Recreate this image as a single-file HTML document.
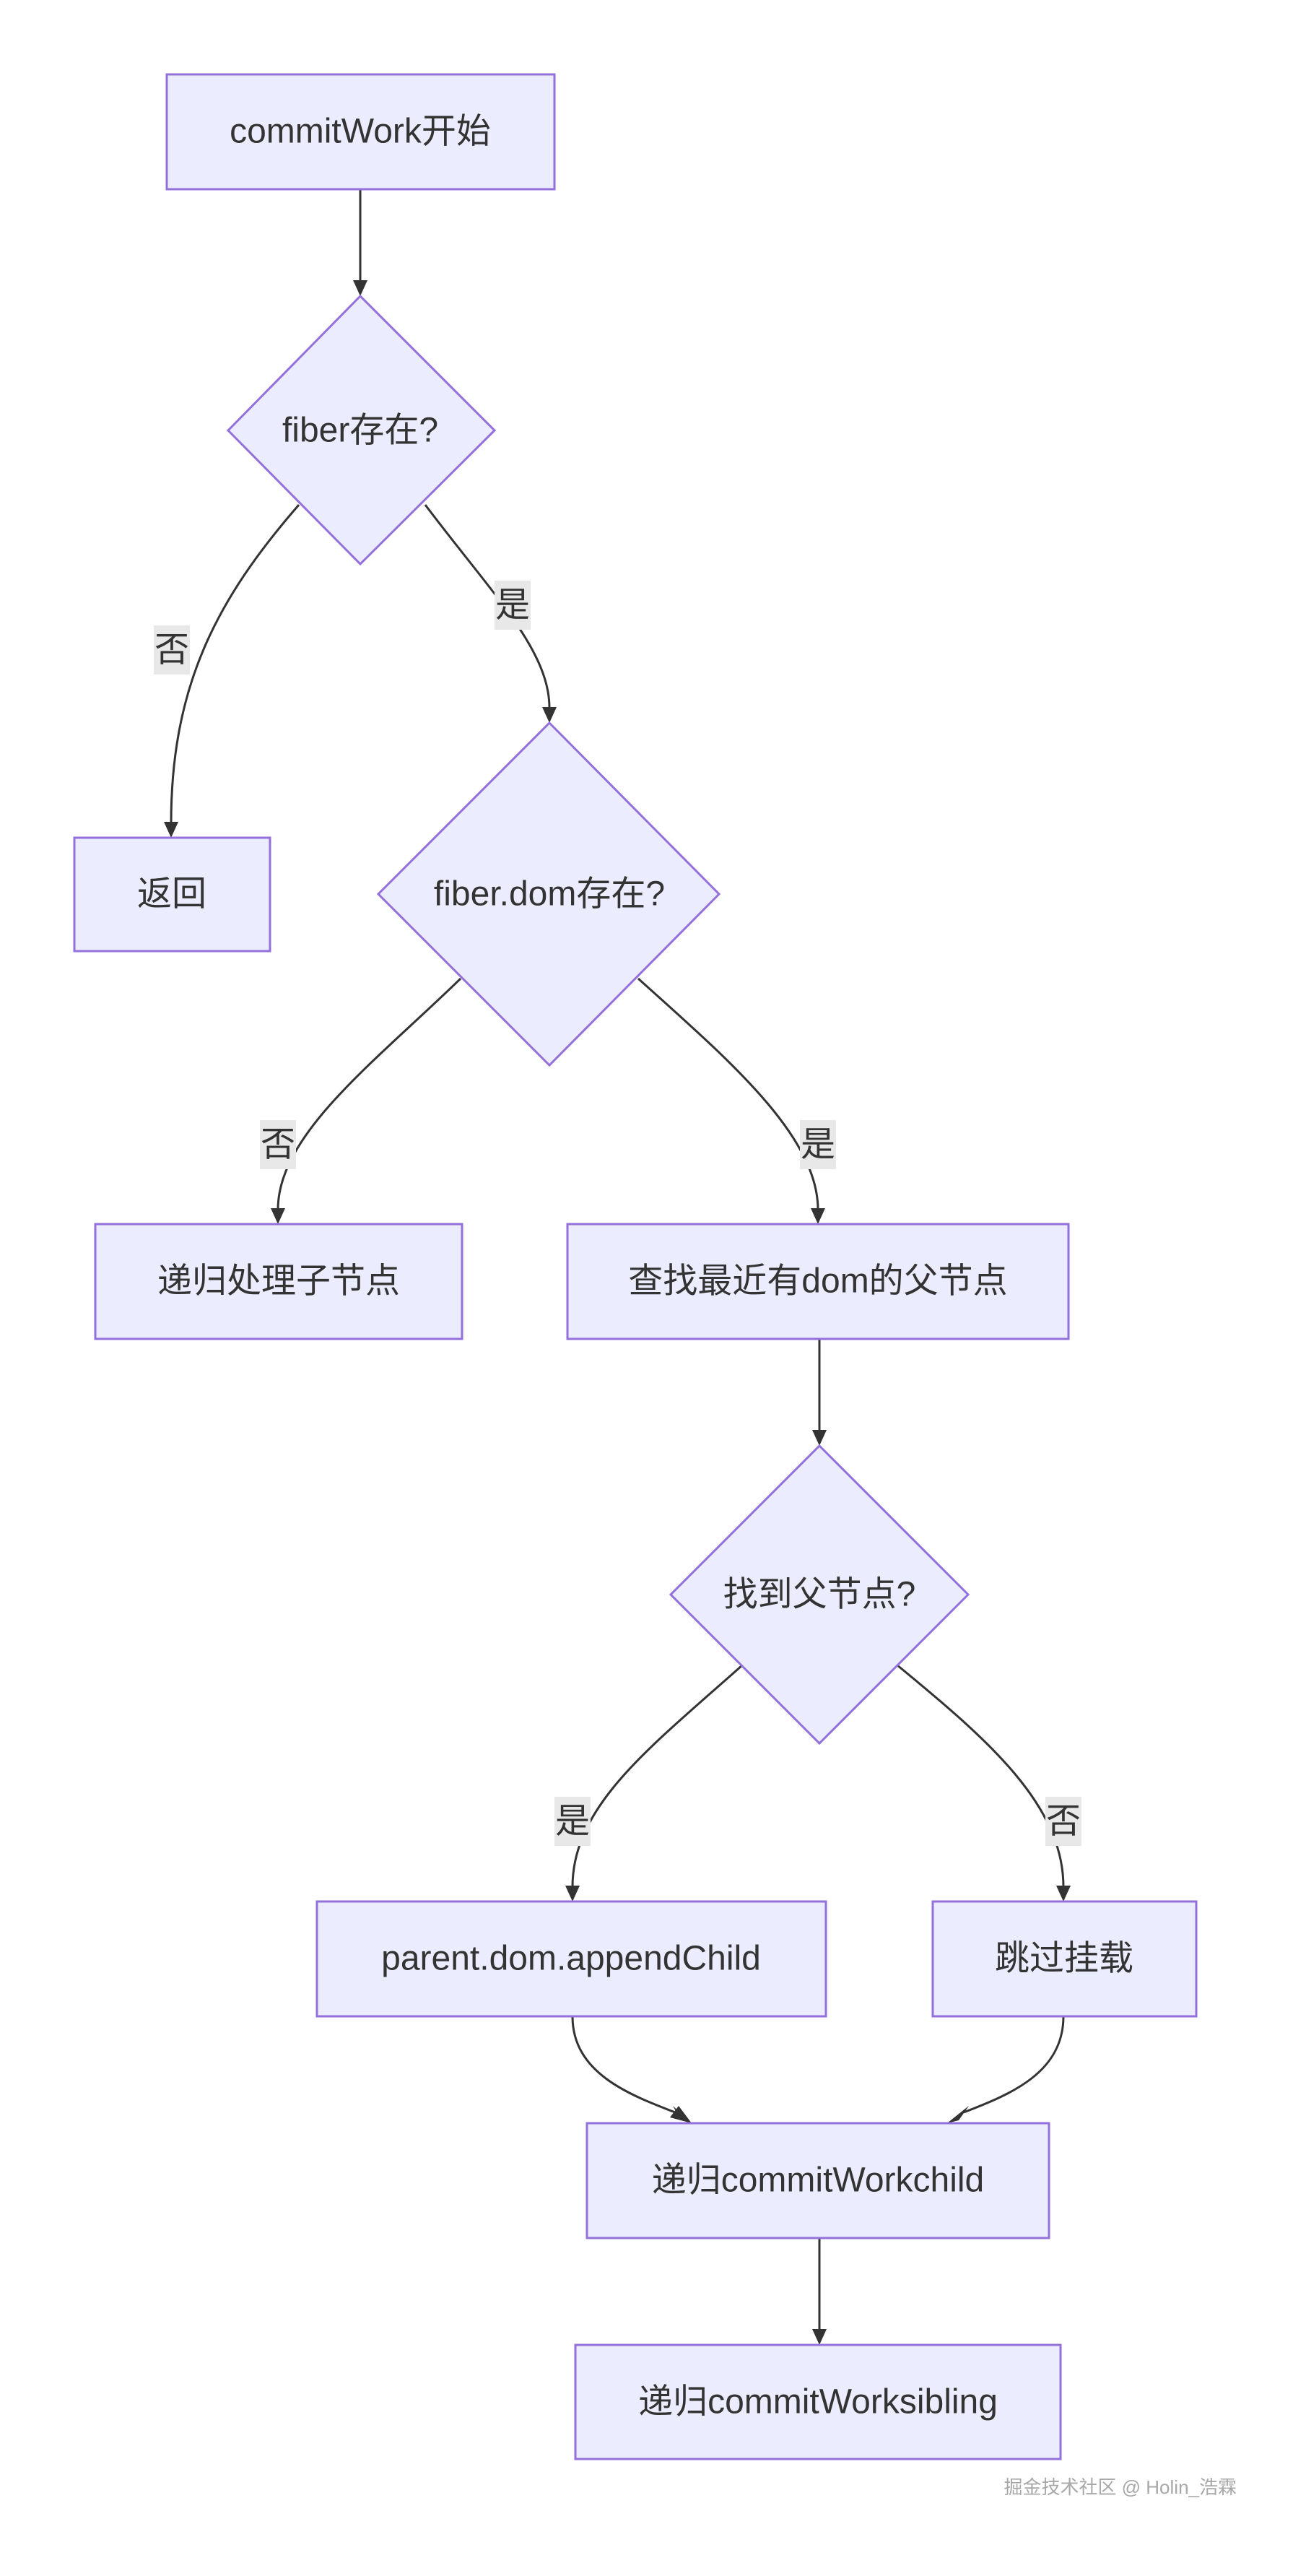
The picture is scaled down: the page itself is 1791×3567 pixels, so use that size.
<!DOCTYPE html>
<html><head><meta charset="utf-8">
<style>
html,body{margin:0;padding:0;background:#fff;}
svg{display:block;}
text{font-family:"Liberation Sans","Noto Sans CJK SC",sans-serif;fill:#333;}
</style></head>
<body>
<svg width="1791" height="3567" viewBox="0 0 1791 3567" xmlns="http://www.w3.org/2000/svg">
<g fill="none" stroke="#333" stroke-width="3">
<path d="M499,262 L499,390"/>
<path d="M414,699 C300,830 237,950 237,1140"/>
<path d="M589,699 C680,820 761,900 761,980"/>
<path d="M638,1355 C520,1470 385,1570 385,1675"/>
<path d="M884,1355 C1000,1460 1133,1570 1133,1675"/>
<path d="M1135,1854 L1135,1982"/>
<path d="M1028,2306 C900,2420 793,2500 793,2613"/>
<path d="M1243,2306 C1370,2410 1473,2500 1473,2613"/>
<path d="M793,2792 C793,2870 870,2900 935,2925"/>
<path d="M1473,2792 C1473,2870 1400,2900 1335,2925"/>
<path d="M1135,3099 L1135,3227"/>
</g>
<g fill="#333">
<path d="M489,388 L509,388 L499,410 z"/>
<path d="M227,1138 L247,1138 L237,1160 z"/>
<path d="M751,979 L771,979 L761,1001 z"/>
<path d="M375,1673 L395,1673 L385,1695 z"/>
<path d="M1123,1673 L1143,1673 L1133,1695 z"/>
<path d="M1125,1980 L1145,1980 L1135,2002 z"/>
<path d="M783,2611 L803,2611 L793,2633 z"/>
<path d="M1463,2611 L1483,2611 L1473,2633 z"/>
<path d="M932,2916 L942,2934 L958,2940 z" />
<path d="M928,2932 L940,2916 L958,2940 z"/>
<path d="M1342,2916 L1330,2932 L1312,2940 z"/>
<path d="M1342,2916 L1328,2936 L1312,2940 z"/>
<path d="M1125,3225 L1145,3225 L1135,3247 z"/>
</g>
<g fill="#ECECFF" stroke="#9370DB" stroke-width="3">
<rect x="231" y="103" width="537" height="159"/>
<polygon points="499,410 685,596 499,781 316,596"/>
<rect x="103" y="1160" width="271" height="157"/>
<polygon points="761,1001 996,1238 761,1475 524,1238"/>
<rect x="132" y="1695" width="508" height="159"/>
<rect x="786" y="1695" width="694" height="159"/>
<polygon points="1135,2002 1341,2208 1135,2414 929,2208"/>
<rect x="439" y="2633" width="705" height="159"/>
<rect x="1292" y="2633" width="365" height="159"/>
<rect x="813" y="2940" width="640" height="159"/>
<rect x="797" y="3247" width="672" height="158"/>
</g>
<g fill="#e8e8e8">
<rect x="213" y="866" width="50" height="68"/>
<rect x="685" y="804" width="50" height="68"/>
<rect x="360" y="1551" width="50" height="68"/>
<rect x="1108" y="1551" width="50" height="68"/>
<rect x="768" y="2488" width="50" height="68"/>
<rect x="1448" y="2488" width="50" height="68"/>
</g>
<g font-size="48" text-anchor="middle" dominant-baseline="central">
<text x="499" y="182">commitWork开始</text>
<text x="499" y="596">fiber存在?</text>
<text x="238" y="1238">返回</text>
<text x="761" y="1238">fiber.dom存在?</text>
<text x="386" y="1774">递归处理子节点</text>
<text x="1133" y="1774">查找最近有dom的父节点</text>
<text x="1135" y="2208">找到父节点?</text>
<text x="791" y="2712">parent.dom.appendChild</text>
<text x="1474" y="2712">跳过挂载</text>
<text x="1133" y="3019">递归commitWorkchild</text>
<text x="1133" y="3326">递归commitWorksibling</text>
<text x="238" y="900">否</text>
<text x="710" y="838">是</text>
<text x="385" y="1585">否</text>
<text x="1133" y="1585">是</text>
<text x="793" y="2522">是</text>
<text x="1473" y="2522">否</text>
</g>
<text x="1713" y="3444" font-size="26" text-anchor="end" dominant-baseline="central" style="fill:#a8a8a8">掘金技术社区 @ Holin_浩霖</text>
</svg>
</body></html>
